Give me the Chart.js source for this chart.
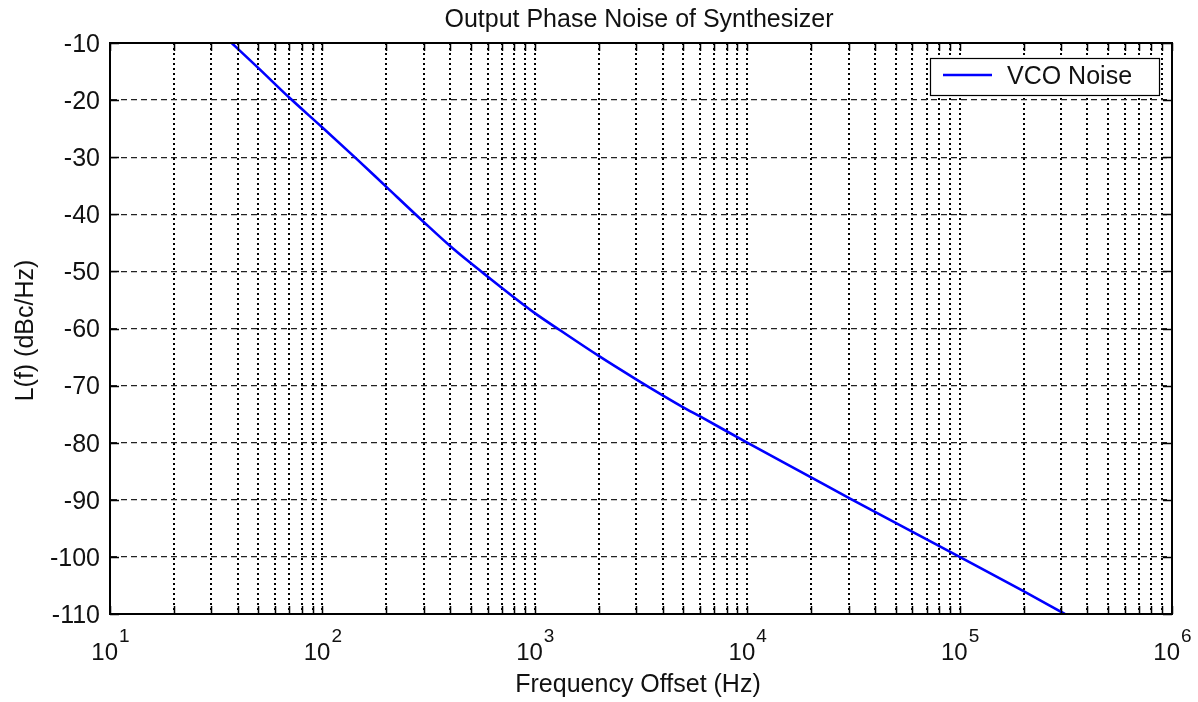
<!DOCTYPE html>
<html>
<head>
<meta charset="utf-8">
<script src="https://cdn.jsdelivr.net/npm/chart.js@4"></script>
<style>
  html, body { margin: 0; padding: 0; background: #fff; }
  #wrap { width: 1198px; height: 702px; }
</style>
</head>
<body>
<div id="wrap"><canvas id="noiseChart" width="1198" height="702"></canvas></div>
<script>
// Values
const freqHz = [37.4, 50, 70, 100, 144, 200, 299, 412, 572, 1000, 1315, 2000, 3000, 4000, 5000, 6000,
                10000, 19600, 30500, 100000, 200000, 313000];
const noiseDbc = [-10, -14.4, -19.6, -24.8, -30.2, -35.2, -41.3, -46, -50.3, -57.3, -60.3, -64.8, -68.9, -71.7, -73.8, -75.4,
                  -80, -85.9, -89.8, -100, -106, -110];
const seriesName = 'VCO Noise';

const xExponents = [1, 2, 3, 4, 5, 6];            // decade labels 10^1 .. 10^6
const xMultipliers = [1, 2, 3, 4, 5, 6, 7, 8, 9]; // minor grid inside each decade
const yTicks = [-10, -20, -30, -40, -50, -60, -70, -80, -90, -100, -110];

const titleText = 'Output Phase Noise of Synthesizer';
const xTitle = 'Frequency Offset (Hz)';
const yTitle = 'L(f) (dBc/Hz)';

const FONT = '"Liberation Sans", Arial, sans-serif';
const TEXT = '#111';

// Draws frame, inward ticks, labels, titles and legend like a MATLAB figure
const matlabFrame = {
    id: 'matlabFrame',
    afterDraw(chart) {
        const { ctx, chartArea: a, scales: { x, y } } = chart;
        ctx.save();

        // box
        ctx.strokeStyle = '#000';
        ctx.lineWidth = 2;
        ctx.strokeRect(a.left, a.top, a.right - a.left, a.bottom - a.top);

        // inward tick marks
        ctx.lineWidth = 1.5;
        ctx.beginPath();
        x.ticks.forEach(t => {
            const px = Math.round(x.getPixelForValue(t.value)) + 0.5;
            ctx.moveTo(px, a.bottom); ctx.lineTo(px, a.bottom - 8);
            ctx.moveTo(px, a.top); ctx.lineTo(px, a.top + 8);
        });
        yTicks.forEach(v => {
            const py = Math.round(y.getPixelForValue(v)) + 0.5;
            ctx.moveTo(a.left, py); ctx.lineTo(a.left + 9, py);
            ctx.moveTo(a.right, py); ctx.lineTo(a.right - 9, py);
        });
        ctx.stroke();

        ctx.fillStyle = TEXT;

        // y tick labels
        ctx.font = '25px ' + FONT;
        ctx.textAlign = 'right';
        ctx.textBaseline = 'middle';
        yTicks.forEach(v => {
            ctx.fillText(String(v), a.left - 10, y.getPixelForValue(v) + 2);
        });

        // x tick labels: 10 with superscript exponent
        ctx.textBaseline = 'alphabetic';
        ctx.textAlign = 'left';
        xExponents.forEach(e => {
            const px = x.getPixelForValue(Math.pow(10, e));
            ctx.font = '24px ' + FONT;
            const w1 = ctx.measureText('10').width;
            ctx.font = '19px ' + FONT;
            const w2 = ctx.measureText(String(e)).width;
            const start = px - (w1 + w2) / 2;
            ctx.font = '24px ' + FONT;
            ctx.fillText('10', start, 660);
            ctx.font = '19px ' + FONT;
            ctx.fillText(String(e), start + w1 + 1, 642);
        });

        // titles
        ctx.font = '25px ' + FONT;
        ctx.textAlign = 'center';
        ctx.fillText(titleText, (a.left + a.right) / 2 - 2, 27);
        ctx.fillText(xTitle, (a.left + a.right) / 2 - 3, 692);
        ctx.save();
        ctx.translate(33, (a.top + a.bottom) / 2 + 2);
        ctx.rotate(-Math.PI / 2);
        ctx.fillText(yTitle, 0, 0);
        ctx.restore();

        // legend box
        const lx = 930, ly = 58, lw = 229, lh = 37;
        ctx.fillStyle = '#fff';
        ctx.fillRect(lx, ly, lw, lh);
        ctx.strokeStyle = '#000';
        ctx.lineWidth = 1.2;
        ctx.strokeRect(lx + 0.5, ly + 0.5, lw, lh);
        ctx.strokeStyle = chart.data.datasets[0].borderColor;
        ctx.lineWidth = 2.5;
        ctx.beginPath();
        ctx.moveTo(943, 75); ctx.lineTo(992, 75);
        ctx.stroke();
        ctx.fillStyle = TEXT;
        ctx.font = '25px ' + FONT;
        ctx.textAlign = 'left';
        ctx.textBaseline = 'middle';
        ctx.fillText(seriesName, 1007, 77);

        ctx.restore();
    }
};

const ctx = document.getElementById('noiseChart').getContext('2d');
new Chart(ctx, {
    type: 'line',
    data: {
        datasets: [{
            label: seriesName,
            data: freqHz.map((f, i) => ({ x: f, y: noiseDbc[i] })),
            borderColor: '#0000ff',
            borderWidth: 2.6,
            pointRadius: 0,
            cubicInterpolationMode: 'monotone',
            fill: false
        }]
    },
    options: {
        responsive: false,
        animation: false,
        devicePixelRatio: 1,
        layout: { padding: { left: 110, top: 43, right: 26, bottom: 88 } },
        plugins: {
            legend: { display: false },
            title: { display: false },
            tooltip: { enabled: false }
        },
        scales: {
            x: {
                type: 'logarithmic',
                min: 10,
                max: 1000000,
                afterBuildTicks(scale) {
                    // 10..90, 100..900, ... up to 10^6
                    const ticks = [];
                    xExponents.slice(0, -1).forEach(e => {
                        const base = Math.pow(10, e);
                        xMultipliers.forEach(m => ticks.push({ value: m * base }));
                    });
                    ticks.push({ value: Math.pow(10, xExponents[xExponents.length - 1]) });
                    scale.ticks = ticks;
                },
                afterFit(scale) { scale.height = 0; },
                ticks: { display: false },
                grid: { color: '#000', lineWidth: 2, drawTicks: false },
                border: { display: true, color: '#000', width: 2, dash: [2, 3] }
            },
            y: {
                type: 'linear',
                min: -110,
                max: -10,
                afterBuildTicks(scale) {
                    scale.ticks = yTicks.map(v => ({ value: v }));
                },
                afterFit(scale) { scale.width = 0; },
                ticks: { display: false },
                grid: { color: '#222', lineWidth: 1.3, drawTicks: false },
                border: { display: true, color: '#000', width: 2, dash: [6, 4] }
            }
        }
    },
    plugins: [matlabFrame]
});
</script>
</body>
</html>
